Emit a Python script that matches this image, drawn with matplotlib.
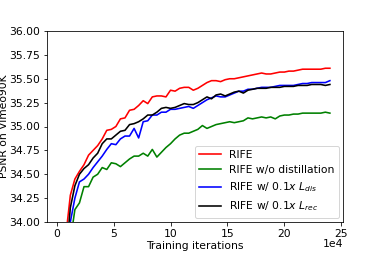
import matplotlib
matplotlib.use("Agg")
import matplotlib.pyplot as plt
import numpy as np

# training iterations in units of 1e4
iters = np.arange(1, 61) * 0.4

rife = [32.6, 33.85, 34.28, 34.45, 34.53, 34.6, 34.7, 34.75, 34.8, 34.87,
        34.96, 34.97, 35.0, 35.08, 35.09, 35.17, 35.18, 35.22, 35.27, 35.24,
        35.31, 35.32, 35.32, 35.31, 35.38, 35.37, 35.4, 35.41, 35.41, 35.38,
        35.4, 35.43, 35.46, 35.48, 35.48, 35.47, 35.49, 35.5, 35.5, 35.51,
        35.52, 35.53, 35.54, 35.55, 35.56, 35.55, 35.55, 35.56, 35.57, 35.57,
        35.58, 35.58, 35.59, 35.6, 35.6, 35.6, 35.6, 35.6, 35.61, 35.61]

no_distill = [32.3, 33.0, 33.8, 34.13, 34.2, 34.37, 34.37, 34.47, 34.5, 34.57,
              34.55, 34.62, 34.61, 34.58, 34.62, 34.66, 34.69, 34.69, 34.72, 34.69,
              34.76, 34.68, 34.73, 34.78, 34.82, 34.87, 34.91, 34.93, 34.93, 34.95,
              34.97, 35.01, 34.98, 35.0, 35.02, 35.03, 35.04, 35.05, 35.04, 35.05,
              35.06, 35.09, 35.08, 35.09, 35.1, 35.09, 35.1, 35.08, 35.11, 35.12,
              35.12, 35.13, 35.13, 35.14, 35.14, 35.14, 35.14, 35.14, 35.15, 35.14]

l_dis = [32.4, 33.3, 34.0, 34.25, 34.42, 34.45, 34.5, 34.57, 34.63, 34.69,
         34.76, 34.82, 34.81, 34.87, 34.9, 34.9, 34.98, 34.88, 35.05, 35.06,
         35.12, 35.12, 35.15, 35.15, 35.18, 35.18, 35.19, 35.2, 35.21, 35.19,
         35.22, 35.25, 35.28, 35.3, 35.32, 35.31, 35.31, 35.33, 35.35, 35.37,
         35.37, 35.39, 35.39, 35.4, 35.41, 35.41, 35.41, 35.42, 35.43, 35.43,
         35.43, 35.43, 35.44, 35.45, 35.45, 35.46, 35.46, 35.46, 35.46, 35.48]

l_rec = [32.5, 33.6, 34.15, 34.38, 34.5, 34.56, 34.6, 34.67, 34.72, 34.82,
         34.87, 34.87, 34.91, 34.95, 34.96, 35.02, 35.03, 35.05, 35.08, 35.12,
         35.12, 35.15, 35.19, 35.2, 35.19, 35.2, 35.22, 35.24, 35.23, 35.23,
         35.25, 35.28, 35.31, 35.29, 35.33, 35.34, 35.32, 35.34, 35.36, 35.37,
         35.35, 35.38, 35.39, 35.4, 35.4, 35.4, 35.41, 35.41, 35.41, 35.42,
         35.42, 35.42, 35.43, 35.43, 35.43, 35.44, 35.44, 35.44, 35.43, 35.44]

plt.rcParams['font.size'] = 10.7

fig = plt.figure(figsize=(382/72, 254/72), dpi=72)
ax = fig.add_axes([47/382, 1-222/254, 296/382, 191/254])

ax.plot(iters, rife, color='red', lw=1.6, label='RIFE')
ax.plot(iters, no_distill, color='green', lw=1.6, label='RIFE w/o distillation')
ax.plot(iters, l_dis, color='blue', lw=1.6, label=r'RIFE w/ 0.1$x$ $L_{dis}$')
ax.plot(iters, l_rec, color='black', lw=1.6, label=r'RIFE w/ 0.1$x$ $L_{rec}$')

ax.set_xlim(-0.85, 25.15)
ax.set_ylim(34.0, 36.0)
ax.set_xticks([0, 5, 10, 15, 20, 25])
ax.set_yticks(np.arange(34.0, 36.01, 0.25))
ax.yaxis.set_major_formatter(matplotlib.ticker.FormatStrFormatter('%.2f'))

ax.set_xlabel('Training iterations', labelpad=2)
ax.set_ylabel('PSNR on Vimeo90K')
ax.yaxis.set_label_coords(-0.13, 0.5)
ax.text(1.0, -0.09, '1e4', transform=ax.transAxes, ha='right', va='top')

ax.legend(loc='lower right', borderaxespad=0.4)

fig.savefig('out.png', dpi=72)
